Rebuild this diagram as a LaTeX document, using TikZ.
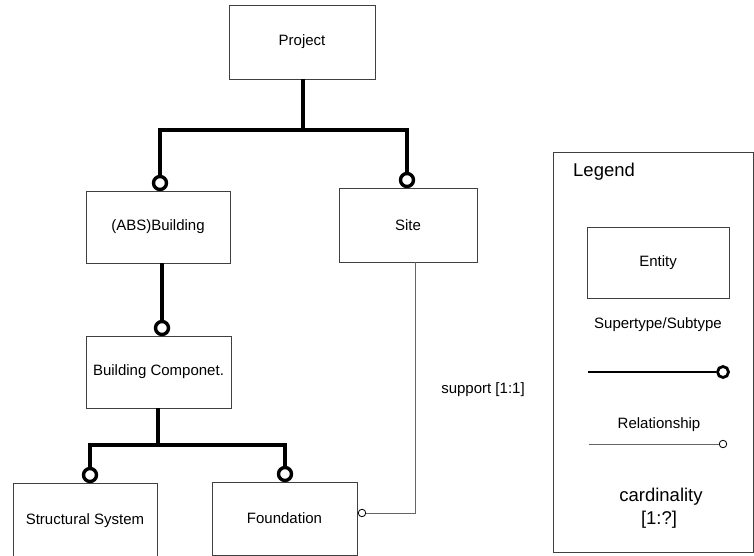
\documentclass[tikz,border=0pt]{standalone}
\usepackage{fontspec}
\setmainfont{Liberation Sans}
\begin{document}
\begin{tikzpicture}[x=1pt,y=-1pt,
  entity/.style={draw=black!75, line width=0.7pt, inner sep=0pt,
    font=\fontsize{15}{18}\selectfont},
  isa/.style={line width=4pt},
  isaend/.style={circle, draw, line width=3.4pt, fill=white, minimum size=13pt, inner sep=0pt},
  rel/.style={line width=0.6pt, draw=black!60},
  relend/.style={circle, draw, line width=0.8pt, fill=white, minimum size=7.5pt, inner sep=0pt},
  lbl/.style={font=\fontsize{15}{18}\selectfont, inner sep=0pt},
  biglbl/.style={font=\fontsize{18.5}{22}\selectfont, inner sep=0pt}]
\useasboundingbox (0,0) rectangle (754,556);

% entities
\node[entity, minimum width=146pt, minimum height=74pt] (proj) at (302,42) {Project};
\node[entity, minimum width=144pt, minimum height=72pt] (bld) at (158,227) {(ABS)Building};
\node[entity, minimum width=138pt, minimum height=74pt] (site) at (408,225) {Site};
\node[entity, minimum width=145pt, minimum height=72pt] (bcomp) at (158.5,372) {Building Componet.};
\node[entity, minimum width=144pt, minimum height=75pt] (struct) at (85,520.5) {Structural System};
\node[entity, minimum width=145pt, minimum height=73pt] (found) at (284.5,518.5) {Foundation};

% supertype/subtype ends
\node[isaend] (c1) at (160,183) {};
\node[isaend] (c2) at (407,180) {};
\node[isaend] (c3) at (162,328) {};
\node[isaend] (c4) at (90,475) {};
\node[isaend] (c5) at (285,474) {};

% supertype/subtype connectors
\coordinate (j1) at (303,130);
\draw[isa] (proj.south -| j1) -- (j1);
\draw[isa] (j1) -| (c1);
\draw[isa] (j1) -| (c2);
\draw[isa] (bld.south -| c3) -- (c3);
\coordinate (j2) at (158,445);
\draw[isa] (bcomp.south -| j2) -- (j2);
\draw[isa] (j2) -| (c4);
\draw[isa] (j2) -| (c5);

% relationship Foundation -- Site
\node[relend] (r1) at (362,513) {};
\coordinate (k) at (415,513);
\draw[rel] (r1) -- (k) -- (k |- site.south);
\node[lbl] (sup) at (483,390) {support [1:1]};

% legend
\node[draw=black!75, line width=0.7pt, minimum width=200pt, minimum height=400pt, inner sep=0pt] (leg) at (653,352) {};
\node[biglbl, anchor=west] (legt) at (573,172) {Legend};
\node[entity, minimum width=142pt, minimum height=71pt] (lent) at (658,262.5) {Entity};
\node[lbl] (lsup) at (658,325) {Supertype/Subtype};
\coordinate (ls) at (588,372);
\node[isaend, line width=2.8pt, minimum size=11pt] (lc) at (723,372) {};
\draw[line width=2.8pt] (ls) -- (lc);
\node[lbl] (lrel) at (659,425) {Relationship};
\coordinate (lr) at (589,444);
\node[relend] (lrc) at (723,444) {};
\draw[rel] (lr) -- (lrc);
\node[biglbl] (lcard) at (661,497) {cardinality};
\node[biglbl] (lcard2) at (659,520) {[1:?]};
\end{tikzpicture}
\end{document}
